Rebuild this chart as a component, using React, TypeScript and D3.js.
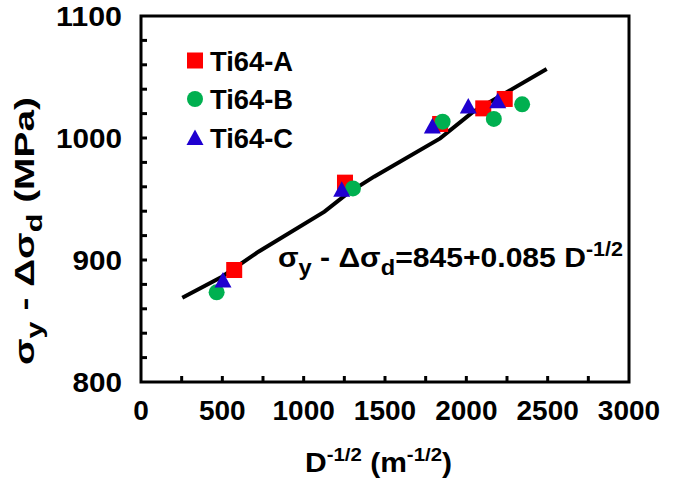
import React from "react";
import * as d3 from "d3";

const seriesNames = ["Ti64-A", "Ti64-B", "Ti64-C"];
const seriesColors = ["#FF0000", "#00B050", "#1F00D0"];
const ti64A_D = [573, 1254, 1839, 2104, 2236];
const ti64A_S = [891.8, 963.4, 1011.5, 1024.3, 1032];
const ti64B_D = [465, 1303, 1854, 2169, 2343];
const ti64B_S = [873.5, 958.7, 1013.4, 1015.6, 1027.6];
const ti64C_D = [504, 1234, 1791, 2012, 2193];
const ti64C_S = [883.6, 958, 1009.8, 1026.2, 1030.6];
const fitD = [254, 498, 722, 1128, 1270, 1433, 1839, 2043, 2494];
const fitS = [869.1, 886.3, 906.8, 939.6, 954.6, 968.3, 999.7, 1021.6, 1056.6];
const xTickLabels = [0, 500, 1000, 1500, 2000, 2500, 3000];
const yTickLabels = [800, 900, 1000, 1100];

const FONT = "'Liberation Sans', Arial, Helvetica, sans-serif";

export default function App() {
  const left = 141, right = 629, top = 16, bottom = 382;
  const x = d3.scaleLinear().domain([0, 3000]).range([left, right]);
  const y = d3.scaleLinear().domain([800, 1100]).range([bottom, top]);
  const xMinor = d3.range(250, 3000, 250);
  const yMinor = d3.range(820, 1100, 20);
  const line = d3.line<number>().x((_, i) => x(fitD[i])).y((d) => y(d));
  const seriesD = [ti64A_D, ti64B_D, ti64C_D];
  const seriesS = [ti64A_S, ti64B_S, ti64C_S];

  const marker = (k: number, cx: number, cy: number, key: string) => {
    if (k === 0) return <rect key={key} x={cx - 8} y={cy - 8} width={16} height={16} fill={seriesColors[0]} />;
    if (k === 1) return <circle key={key} cx={cx} cy={cy} r={8} fill={seriesColors[1]} />;
    return <path key={key} d={`M${cx},${cy - 8}L${cx + 8.5},${cy + 7.5}L${cx - 8.5},${cy + 7.5}Z`} fill={seriesColors[2]} />;
  };

  return (
    <svg width={685} height={488} style={{ position: "absolute", left: 0, top: 0, background: "#fff" }} fontFamily={FONT} fontWeight="bold">
      <rect width={685} height={488} fill="#fff" />
      {xMinor.map((t) => (
        <line key={"xt" + t} x1={x(t)} x2={x(t)} y1={bottom} y2={bottom - 6} stroke="#000" strokeWidth={3} />
      ))}
      {yMinor.map((t) => (
        <line key={"yt" + t} x1={left} x2={left + 6} y1={y(t)} y2={y(t)} stroke="#000" strokeWidth={3} />
      ))}
      <rect x={left} y={top} width={right - left} height={bottom - top} fill="none" stroke="#000" strokeWidth={3} />
      {xTickLabels.map((t) => (
        <text key={"xl" + t} x={x(t)} y={420} textAnchor="middle" fontSize={28}>{t}</text>
      ))}
      {yTickLabels.map((t) => (
        <text key={"yl" + t} x={122} y={y(t) + 10} textAnchor="end" fontSize={28}
          textLength={String(t).length * 16.5} lengthAdjust="spacingAndGlyphs">{t}</text>
      ))}
      <path d={line(fitS) || ""} fill="none" stroke="#000" strokeWidth={4} />
      {seriesD.map((ds, k) => ds.map((d, i) => marker(k, x(d), y(seriesS[k][i]), `m${k}-${i}`)))}
      {seriesNames.map((n, k) => (
        <g key={n}>
          {marker(k, 195, 60.5 + k * 38.5, "lg" + k)}
          <text x={210} y={70.5 + k * 38.5} fontSize={28} textLength={83} lengthAdjust="spacingAndGlyphs">{n}</text>
        </g>
      ))}
      <text x={278} y={267} fontSize={28} textLength={345} lengthAdjust="spacingAndGlyphs">
        σ<tspan fontSize={22} dy={8}>y</tspan>
        <tspan dy={-8}> - Δσ</tspan>
        <tspan fontSize={22} dy={8}>d</tspan>
        <tspan dy={-8}>=845+0.085 D</tspan>
        <tspan fontSize={20} dy={-11}>-1/2</tspan>
      </text>
      <text x={378.5} y={472} textAnchor="middle" fontSize={28} textLength={147} lengthAdjust="spacingAndGlyphs">
        D<tspan fontSize={19} dy={-11}>-1/2</tspan>
        <tspan dy={11}> (m</tspan>
        <tspan fontSize={19} dy={-11}>-1/2</tspan>
        <tspan dy={11}>)</tspan>
      </text>
      <text transform="translate(34,231) rotate(-90)" textAnchor="middle" fontSize={28} textLength={268} lengthAdjust="spacingAndGlyphs">
        σ<tspan fontSize={22} dy={8}>y</tspan>
        <tspan dy={-8}> - Δσ</tspan>
        <tspan fontSize={22} dy={8}>d</tspan>
        <tspan dy={-8}> (MPa)</tspan>
      </text>
    </svg>
  );
}
